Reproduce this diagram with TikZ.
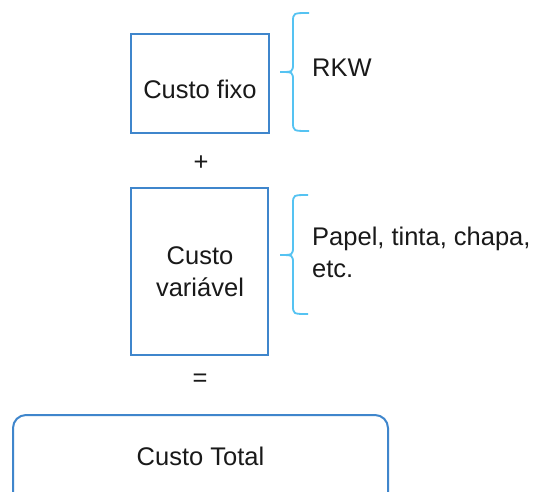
\documentclass[tikz,border=0pt]{standalone}
\usepackage{fontspec}
\setmainfont{Liberation Sans}
\definecolor{boxblue}{HTML}{3F86CC}
\definecolor{braceblue}{HTML}{55C3F2}
\tikzset{
  costbox/.style={draw=boxblue, line width=2pt},
  bracel/.style={draw=braceblue, line width=1.8pt},
  lbl/.style={inner sep=0pt, font=\fontsize{25.5}{32}\selectfont, text=black!90},
}
\begin{document}
\begin{tikzpicture}[x=1pt,y=-1pt]
\clip (0,0) rectangle (534,491);
\fill[white] (0,0) rectangle (534,491);
% boxes
\draw[costbox] (131,34) rectangle (269,133);
\node[lbl, anchor=base] (fixo) at (200,98) {Custo fixo};
\draw[costbox] (131,188) rectangle (268,355);
\node[lbl, anchor=base, align=center] (var) at (200,296) {Custo\\variável};
\draw[costbox, rounded corners=13pt] (13,415) rectangle (388,520);
\node[lbl, anchor=base] (total) at (200.5,465) {Custo Total};
% operators
\node[lbl, anchor=base] (plus) at (201,170) {+};
\node[lbl, anchor=base] (eq) at (200,386) {=};
% braces
\draw[bracel] (309,13) .. controls (293,13) .. (293,22) -- (293,63) .. controls (293,72) .. (280,72);
\draw[bracel] (309,131) .. controls (293,131) .. (293,122) -- (293,81) .. controls (293,72) .. (280,72);
\draw[bracel] (308,195) .. controls (293,195) .. (293,204) -- (293,246) .. controls (293,255) .. (280,255);
\draw[bracel] (308,314) .. controls (293,314) .. (293,305) -- (293,264) .. controls (293,255) .. (280,255);
% labels
\node[lbl, anchor=base west] (rkw) at (312,76) {RKW};
\node[lbl, anchor=base west, align=left] (papel) at (312,277) {Papel, tinta, chapa,\\etc.};
\end{tikzpicture}
\end{document}
